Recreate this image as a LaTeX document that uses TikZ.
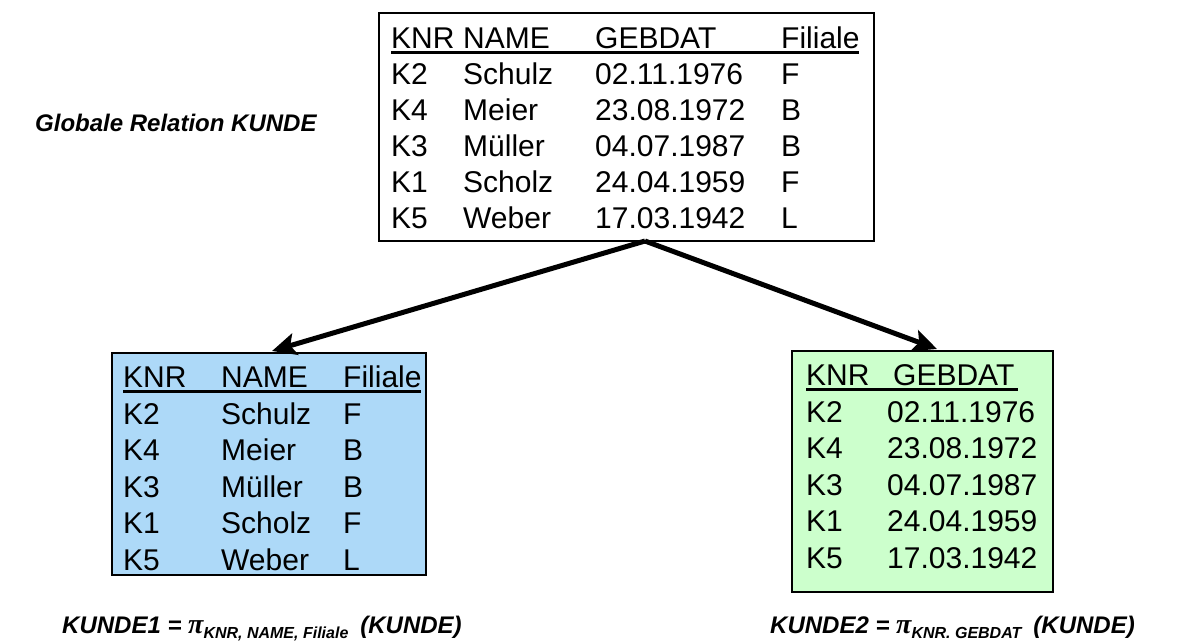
\documentclass[tikz,border=0pt]{standalone}
\usepackage{fontspec}
\setmainfont{Liberation Sans}
\newfontfamily\pifont{Liberation Serif}
\usepackage{array}
\usetikzlibrary{arrows.meta}
\definecolor{boxblue}{RGB}{173,217,248}
\definecolor{boxgreen}{RGB}{204,255,204}
\setlength{\tabcolsep}{0pt}
\tikzset{
  tablebox/.style={draw=black, line width=#1, inner sep=0pt, anchor=north west},
  tabletext/.style={inner sep=0pt, anchor=north west, align=left,
     font=\fontsize{30}{#1}\selectfont},
  uline/.style={line width=3pt},
  conn/.style={line width=5pt, -{Stealth[length=24pt,width=22pt,inset=5pt]}},
  caption/.style={inner sep=0pt, anchor=base west, font=\fontsize{24}{28}\selectfont\bfseries\itshape},
}
\newcommand{\pisym}[1]{{\pifont\itshape\fontsize{28}{30}\selectfont π}\raisebox{-5pt}{\fontsize{16}{18}\selectfont\bfseries\itshape #1}}
\begin{document}
\begin{tikzpicture}[x=1pt,y=-1pt]
\useasboundingbox (0,0) rectangle (1185,641);
% boxes
\node[tablebox=1.5pt, minimum width=495pt, minimum height=228pt] (top) at (378,12) {};
\node[tablebox=2pt, fill=boxblue, minimum width=314pt, minimum height=222pt] (blue) at (111,352) {};
\node[tablebox=2pt, fill=boxgreen, minimum width=261pt, minimum height=241pt] (green) at (791,350) {};
% table texts
\node[tabletext=36] (toptab) at (391,23.3) {%
\begin{tabular}{@{}w{l}{72pt}w{l}{132pt}w{l}{186pt}l@{}}
KNR & NAME & GEBDAT & Filiale\\
K2 & Schulz & 02.11.1976 & F\\
K4 & Meier & 23.08.1972 & B\\
K3 & Müller & 04.07.1987 & B\\
K1 & Scholz & 24.04.1959 & F\\
K5 & Weber & 17.03.1942 & L
\end{tabular}};
\node[tabletext=36.5] (bluetab) at (123,362) {%
\begin{tabular}{@{}w{l}{98pt}w{l}{122pt}l@{}}
KNR & NAME & Filiale\\
K2 & Schulz & F\\
K4 & Meier & B\\
K3 & Müller & B\\
K1 & Scholz & F\\
K5 & Weber & L
\end{tabular}};
\node[tabletext=36.5] (greentab) at (806,360) {%
\begin{tabular}{@{}w{l}{81pt}l@{}}
KNR & \hspace{6pt}GEBDAT\\
K2 & 02.11.1976\\
K4 & 23.08.1972\\
K3 & 04.07.1987\\
K1 & 24.04.1959\\
K5 & 17.03.1942
\end{tabular}};
% header underlines
\draw[uline] (391,52) -- (859,52);
\draw[uline] (123,391) -- (421,391);
\draw[uline] (806,389) -- (1018,389);
% labels
\node[caption] (glob) at (35,131) {Globale Relation KUNDE};
\node[caption] (f1) at (62,633) {KUNDE1 = \pisym{KNR, NAME, Filiale}\hspace{12pt}(KUNDE)};
\node[caption] (f2) at (770,633) {KUNDE2 = \pisym{KNR. GEBDAT}\hspace{12pt}(KUNDE)};
% connectors
\coordinate (apex) at (645,241);
\coordinate (tipL) at (272,351);
\coordinate (tipR) at (937,349);
\draw[conn] (apex) -- (tipL);
\draw[conn] (apex) -- (tipR);
\end{tikzpicture}
\end{document}
